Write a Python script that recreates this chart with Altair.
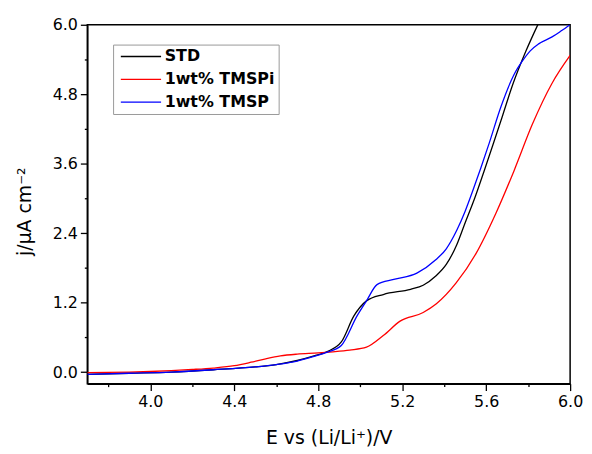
import altair as alt
import pandas as pd

# ---- data ----
series_names = ["STD", "1wt% TMSPi", "1wt% TMSP"]
series_colors = ["#000000", "#ff0000", "#0000ff"]

std_E = [3.70, 3.90, 4.10, 4.30, 4.50, 4.60, 4.70, 4.78, 4.84, 4.91, 4.97, 5.03,
         5.11, 5.24, 5.30, 5.36, 5.41, 5.46, 5.50, 5.544, 5.59, 5.63, 5.68, 5.725,
         5.79, 5.846]
std_j = [-0.04, -0.02, 0.00, 0.04, 0.09, 0.13, 0.20, 0.28, 0.35, 0.52, 0.97, 1.23,
         1.34, 1.43, 1.50, 1.66, 1.86, 2.20, 2.58, 2.99, 3.47, 3.90, 4.45, 4.95,
         5.55, 6.00]

tmspi_E = [3.70, 3.90, 4.00, 4.20, 4.30, 4.40, 4.48, 4.55, 4.62, 4.70, 4.80, 4.87,
           4.95, 5.03, 5.11, 5.19, 5.30, 5.363, 5.457, 5.552, 5.646, 5.733, 5.82,
           5.914, 6.00]
tmspi_j = [-0.01, 0.00, 0.01, 0.045, 0.07, 0.11, 0.17, 0.23, 0.28, 0.31, 0.33, 0.35,
           0.38, 0.43, 0.63, 0.88, 1.03, 1.18, 1.54, 2.05, 2.74, 3.48, 4.28,
           4.99, 5.47]

tmsp_E = [3.70, 3.90, 4.10, 4.30, 4.50, 4.60, 4.70, 4.78, 4.84, 4.91, 4.985, 5.03,
          5.08, 5.16, 5.27, 5.36, 5.41, 5.46, 5.50, 5.54, 5.575, 5.615, 5.67,
          5.733, 5.772, 5.81, 5.85, 5.914, 5.96, 6.00]
tmsp_j = [-0.04, -0.02, 0.00, 0.04, 0.09, 0.13, 0.19, 0.27, 0.34, 0.46, 0.97, 1.23,
          1.51, 1.60, 1.71, 1.94, 2.13, 2.45, 2.78, 3.17, 3.53, 3.96, 4.58,
          5.14, 5.37, 5.55, 5.67, 5.79, 5.90, 6.00]

x_ticks = [3.8, 4.0, 4.2, 4.4, 4.6, 4.8, 5.0, 5.2, 5.4, 5.6, 5.8, 6.0]
y_ticks = [0.0, 0.6, 1.2, 1.8, 2.4, 3.0, 3.6, 4.2, 4.8, 5.4, 6.0]

rows = []
for name, Es, js in [(series_names[0], std_E, std_j),
                     (series_names[1], tmspi_E, tmspi_j),
                     (series_names[2], tmsp_E, tmsp_j)]:
    for e, j in zip(Es, js):
        rows.append({"series": name, "E": e, "j": j})
df = pd.DataFrame(rows)

FONT = "DejaVu Sans"
x_minor = "round(datum.value*10) % 4 == 2"
y_minor = "round(datum.value*10) % 12 != 0"

chart = alt.Chart(df).mark_line(strokeWidth=1.3, interpolate="monotone", clip=True).encode(
    x=alt.X("E:Q",
            scale=alt.Scale(domain=[3.7, 6.0], nice=False, zero=False),
            axis=alt.Axis(values=x_ticks, format=".1f",
                          labelExpr=f"{x_minor} ? '' : datum.label",
                          tickSize={"condition": {"test": x_minor, "value": 3}, "value": 7},
                          labelFlush=False, labelPadding=3,
                          title="E vs (Li/Li⁺)/V",
                          titleX=243.5, titleY=60, titleAlign="center",
                          titleBaseline="alphabetic")),
    y=alt.Y("j:Q",
            scale=alt.Scale(domain=[-0.2, 6.0], nice=False, zero=False),
            axis=alt.Axis(values=y_ticks, format=".1f",
                          labelExpr=f"{y_minor} ? '' : datum.label",
                          tickSize={"condition": {"test": y_minor, "value": 3}, "value": 7},
                          labelPadding=3,
                          title="j/μA cm⁻²",
                          titleX=-63, titleY=188, titleAlign="center",
                          titleBaseline="middle")),
    color=alt.Color("series:N",
                    scale=alt.Scale(domain=series_names, range=series_colors),
                    sort=series_names,
                    legend=alt.Legend(title=None, orient="none", legendX=26, legendY=20,
                                      symbolType="M-0.6,0H5.2", symbolSize=196,
                                      symbolStrokeWidth=1.3,
                                      labelFont=FONT, labelFontSize=16,
                                      labelFontWeight="bold", labelColor="black",
                                      strokeColor="#999999", fillColor="white",
                                      padding=4, rowPadding=7, labelOffset=32)),
).properties(
    width=487, height=362,
    autosize=alt.AutoSizeParams(type="none"),
    padding={"left": 80, "top": 15, "right": 14, "bottom": 64},
).configure_view(
    stroke="black", strokeWidth=1.5
).configure_axis(
    grid=False, domainColor="black", domainWidth=1.5, tickColor="black", tickWidth=1.3,
    labelFont=FONT, labelFontSize=16, labelColor="black",
    titleFont=FONT, titleFontSize=19, titleFontWeight="normal", titleColor="black",
)

chart.save("out.html", embed_options={"renderer": "svg", "actions": False})
